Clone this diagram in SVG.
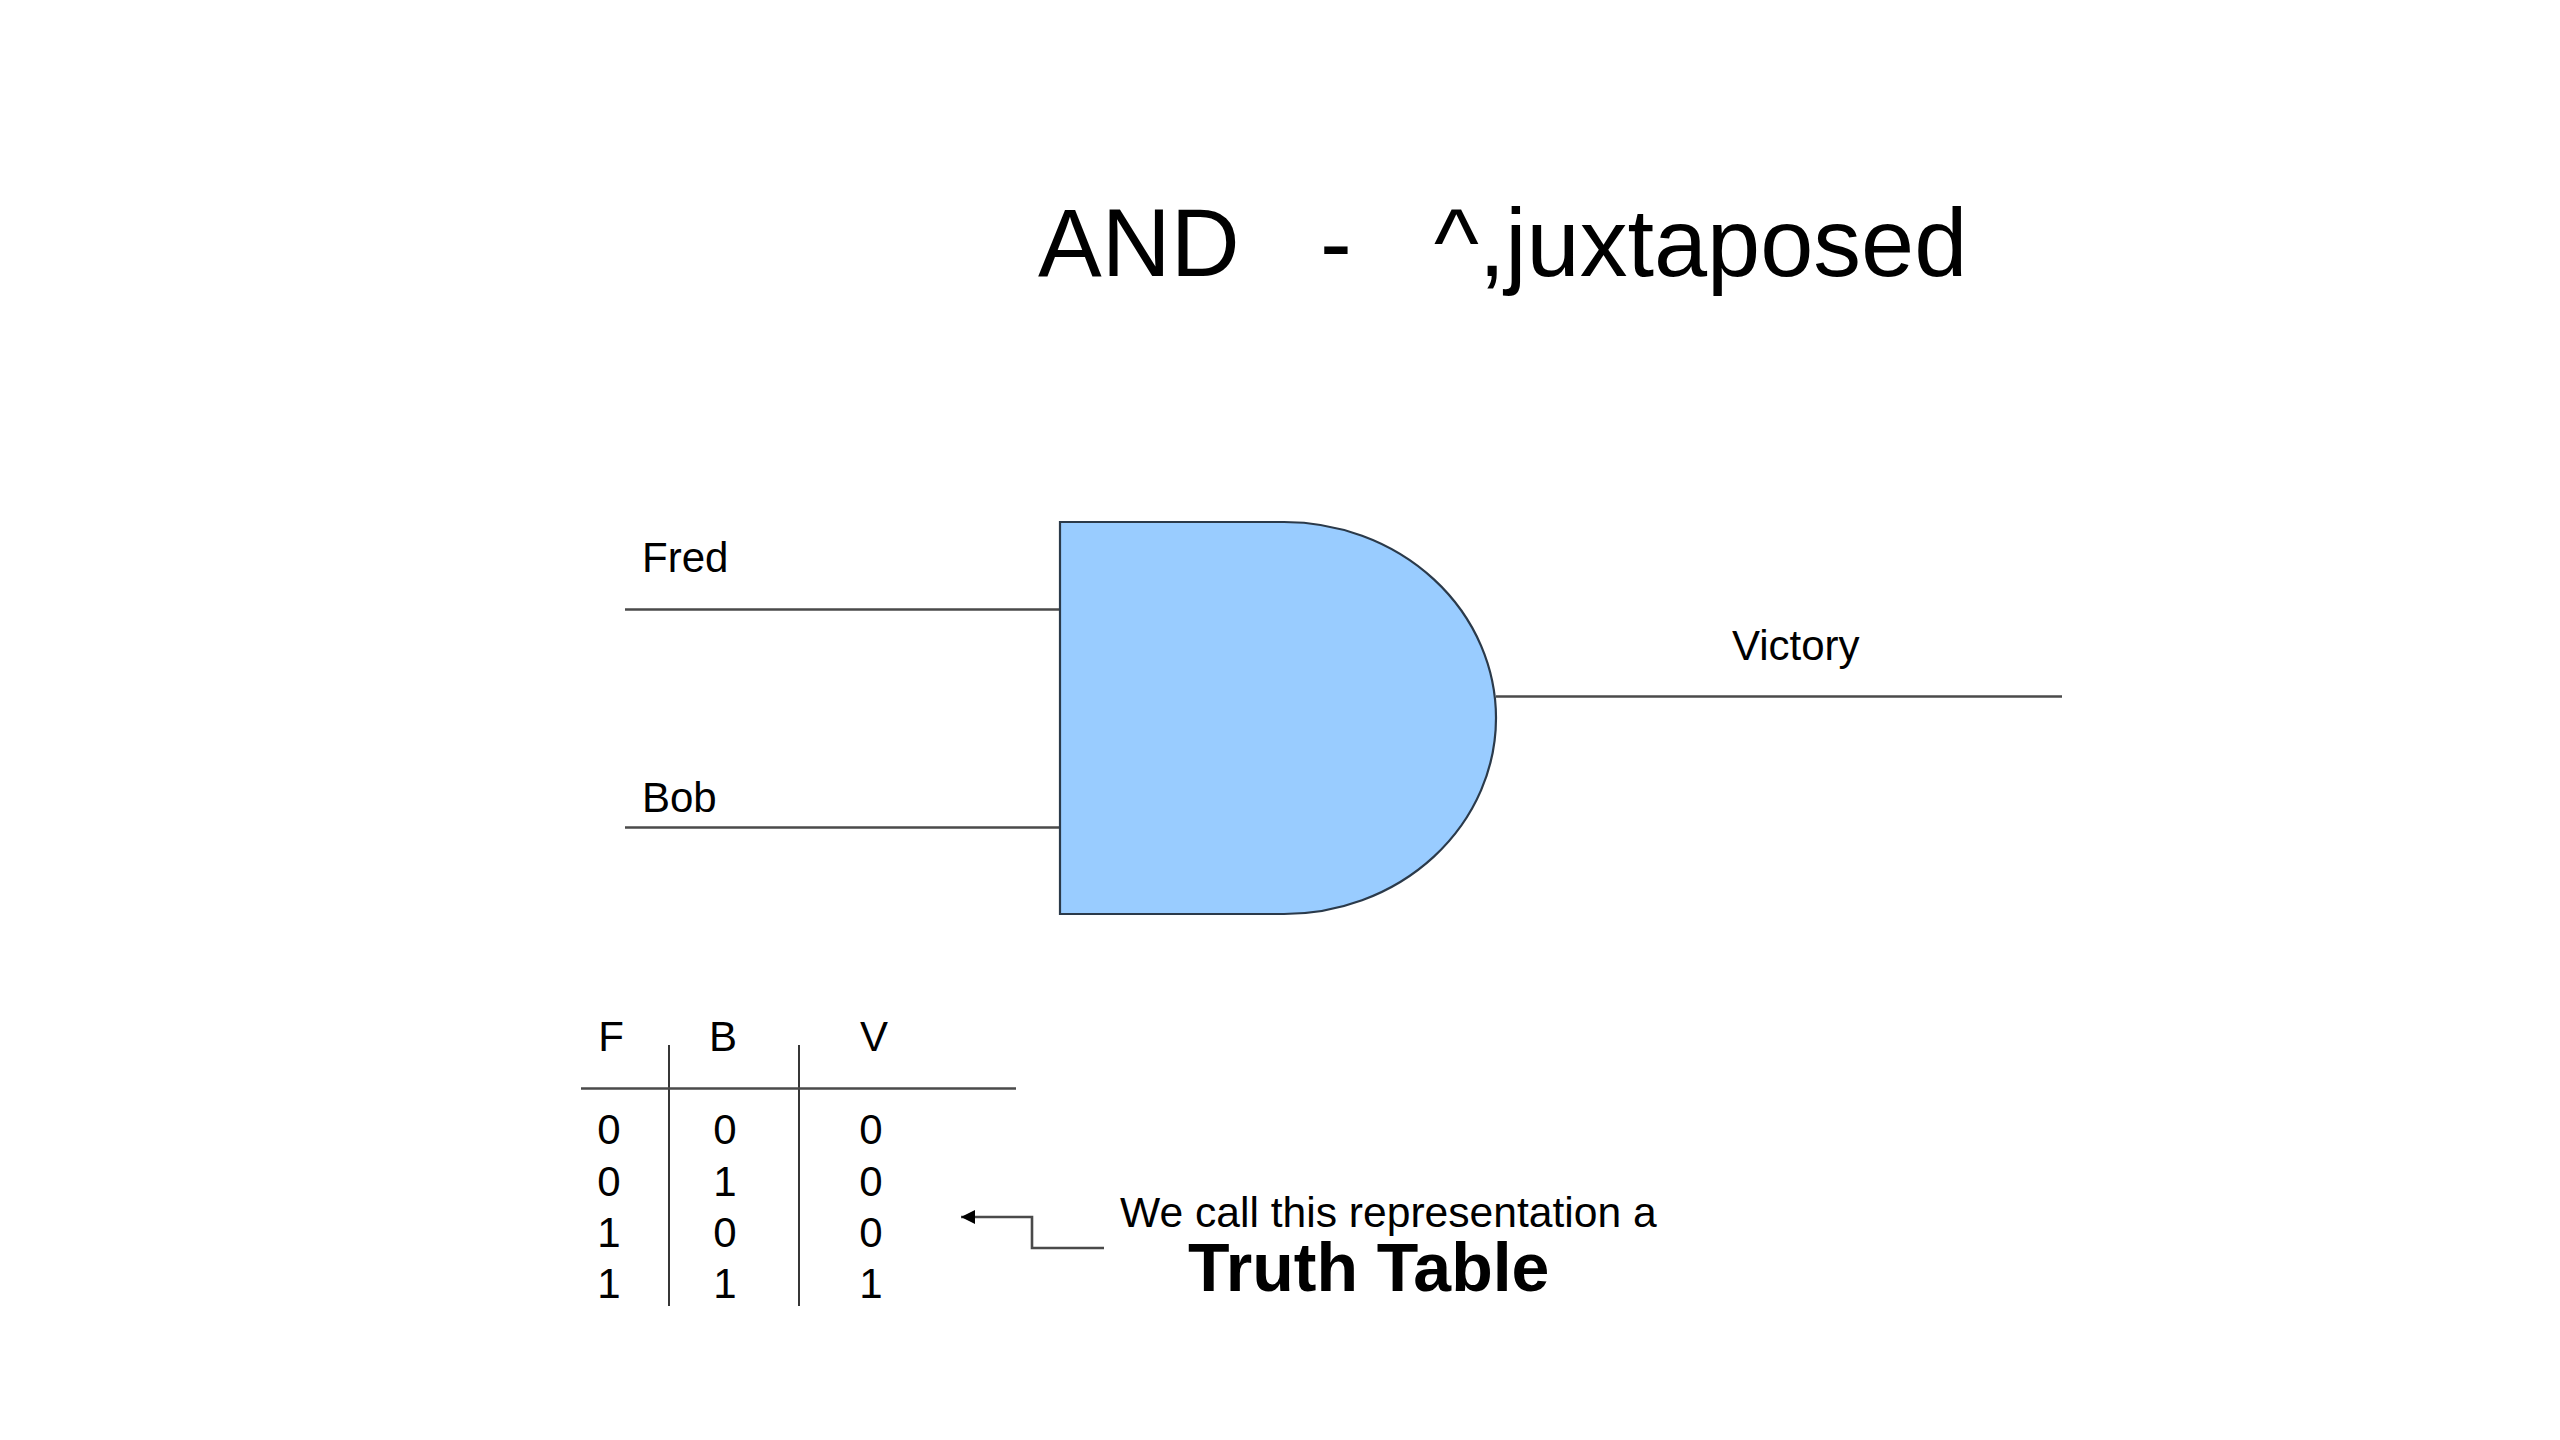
<svg xmlns="http://www.w3.org/2000/svg" width="2560" height="1440" viewBox="0 0 2560 1440">
<style>
text{font-family:"Liberation Sans",Arial,sans-serif;fill:#000}
.t{font-size:42px}
.c{font-size:42px;text-anchor:middle}
.w{fill:none;stroke:#4a4a4a;stroke-width:2.6}
.r{fill:none;stroke:#222;stroke-width:1.8}
</style>
<defs><marker id="ah" markerUnits="userSpaceOnUse" markerWidth="16" markerHeight="16" refX="14" refY="8" orient="auto"><path d="M0 1L14 8L0 15Z" fill="#000"/></marker></defs>
<rect width="2560" height="1440" fill="#fff"/>
<g id="title"><text y="276" font-size="95.500"><tspan x="1038">AND</tspan><tspan x="1320">-</tspan><tspan x="1434">^,juxtaposed</tspan></text></g>
<g id="connectors">
<path class="w" d="M625 609.500H1060"/>
<path class="w" d="M625 827.500H1060"/>
<path class="w" d="M1496 696.500H2062"/>
<path class="w" marker-end="url(#ah)" d="M1104 1248H1032V1217H961"/>
</g>
<g id="and-gate"><path d="M1060 522H1284A212 196 0 0 1 1284 914H1060Z" fill="#99ccff" stroke="#2b3a4a" stroke-width="2.200"/></g>
<g id="fred"><text class="t" x="642" y="572">Fred</text></g>
<g id="bob"><text class="t" x="642" y="811.500">Bob</text></g>
<g id="victory"><text class="t" x="1732" y="659.500">Victory</text></g>
<g id="truth-table">
<path class="r" d="M669 1045V1306M799 1045V1306"/>
<path class="w" d="M581 1088.500H1016"/>
<text class="c" x="611" y="1051">F</text><text class="c" x="723" y="1051">B</text><text class="c" x="874" y="1051">V</text>
<text class="c" x="609" y="1144">0</text><text class="c" x="725" y="1144">0</text><text class="c" x="871" y="1144">0</text>
<text class="c" x="609" y="1196">0</text><text class="c" x="725" y="1196">1</text><text class="c" x="871" y="1196">0</text>
<text class="c" x="609" y="1247">1</text><text class="c" x="725" y="1247">0</text><text class="c" x="871" y="1247">0</text>
<text class="c" x="609" y="1298">1</text><text class="c" x="725" y="1298">1</text><text class="c" x="871" y="1298">1</text>
</g>
<g id="caption">
<text x="1120" y="1226.500" font-size="42.600">We call this representation a</text>
<text x="1188" y="1291" font-size="68" font-weight="bold">Truth Table</text>
</g>
</svg>
